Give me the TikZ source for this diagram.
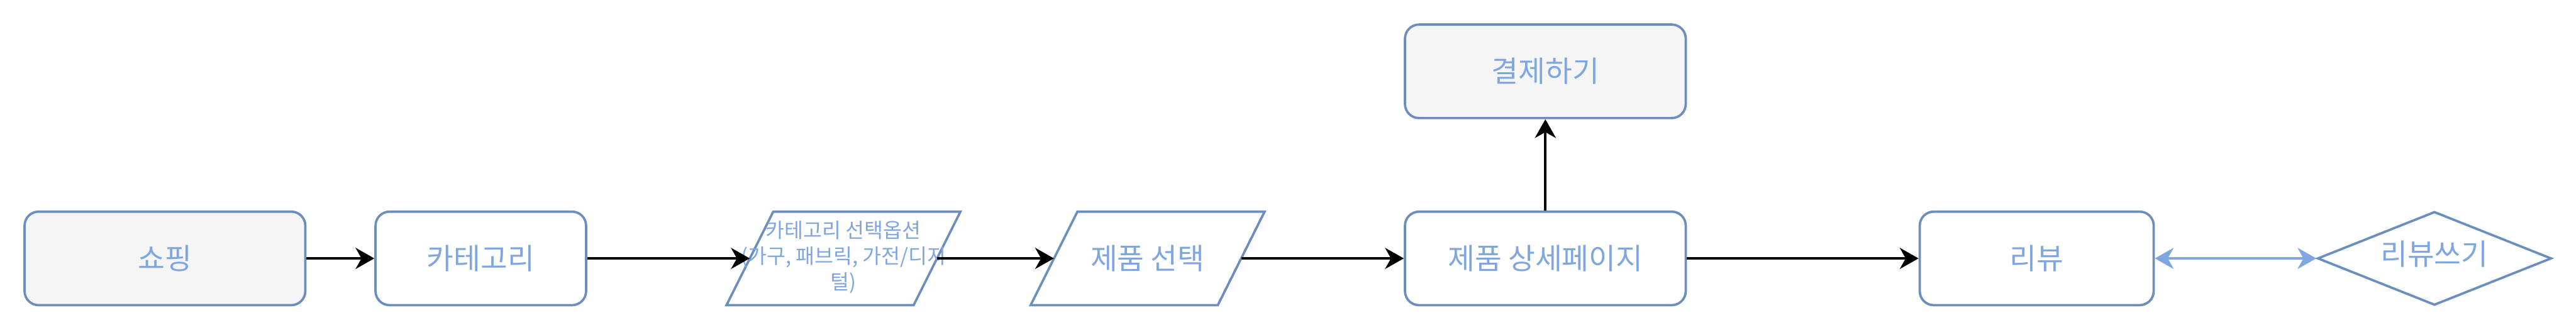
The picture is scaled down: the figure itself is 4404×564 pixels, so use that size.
\documentclass[tikz,border=0pt]{standalone}
\usepackage{fontspec}
\setmainfont{Noto Sans CJK KR}
\usetikzlibrary{arrows.meta,shapes.geometric}
\definecolor{strokeblue}{HTML}{6C8EBF}
\definecolor{textblue}{HTML}{7EA6E0}
\definecolor{greyfill}{HTML}{F5F5F5}
\tikzset{
  box/.style={draw=strokeblue, line width=4pt, rounded corners=24pt, fill=white,
    minimum height=160pt, inner sep=0pt, text=textblue, font=\fontsize{50}{60}\selectfont},
  greybox/.style={box, fill=greyfill},
  slantanchor/.style={draw=none, minimum height=160pt, minimum width=320pt, inner sep=0pt},
  slantshape/.style={draw=strokeblue, line width=4pt, fill=white, line join=miter},
  lbl/.style={text=textblue, font=\fontsize{50}{60}\selectfont, inner sep=0pt},
  lblsmall/.style={text=textblue, font=\fontsize{35}{44}\selectfont, align=center, inner sep=0pt},
  decision/.style={diamond, draw=strokeblue, line width=4pt, fill=white, minimum width=400pt,
    minimum height=160pt, inner sep=0pt, shape aspect=2.5},
  flow/.style={draw=black, line width=4.5pt, -{Stealth[length=32pt,width=36pt,inset=10pt]}},
  bothflow/.style={draw=textblue, line width=4.5pt,
    {Stealth[length=32pt,width=36pt,inset=10pt]}-{Stealth[length=32pt,width=36pt,inset=10pt]}}
}
\begin{document}
\begin{tikzpicture}[x=1pt,y=-1pt]
\useasboundingbox (0,0) rectangle (4404,564);
% nodes
\node[greybox, minimum width=480pt] (shop) at (282,442) {쇼핑};
\node[box, minimum width=360pt] (cat) at (822,442) {카테고리};
\node[slantanchor] (opt) at (1442,442) {};
\draw[slantshape] (1242,522) -- (1322,362) -- (1642,362) -- (1562,522) -- cycle;
\node[lblsmall] (optlbl) at (1442,440) {카테고리 선택옵션\\(가구, 패브릭, 가전/디지\\털)};
\node[slantanchor] (sel) at (1962,442) {};
\draw[slantshape] (1762,522) -- (1842,362) -- (2162,362) -- (2082,522) -- cycle;
\node[lbl] (sellbl) at (1962,442) {제품 선택};
\node[box, minimum width=480pt] (detail) at (2642,442) {제품 상세페이지};
\node[greybox, minimum width=480pt] (pay) at (2642,122) {결제하기};
\node[box, minimum width=400pt] (review) at (3482,442) {리뷰};
\node[decision] (write) at (4162,442) {};
\node[lbl] (writelbl) at (4162,434) {리뷰쓰기};
% connectors
\draw[flow] (shop) -- (cat);
\draw[flow] (cat) -- (opt.west);
\draw[flow] (opt.east) -- (sel.west);
\draw[flow] (sel.east) -- (detail);
\draw[flow] (detail) -- (pay);
\draw[flow] (detail) -- (review);
\draw[bothflow] (review.east) -- (write.west);
\end{tikzpicture}
\end{document}
